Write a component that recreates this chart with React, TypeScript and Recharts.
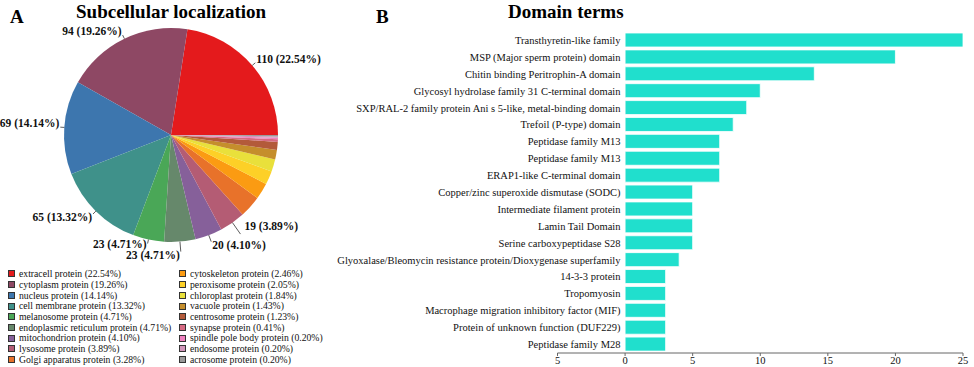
import { PieChart, Pie, Cell, BarChart, Bar, XAxis, YAxis } from 'recharts'

const locNames = [
  'extracell protein',
  'cytoplasm protein',
  'nucleus protein',
  'cell membrane protein',
  'melanosome protein',
  'endoplasmic reticulum protein',
  'mitochondrion protein',
  'lysosome protein',
  'Golgi apparatus protein',
  'cytoskeleton protein',
  'peroxisome protein',
  'chloroplast protein',
  'vacuole protein',
  'centrosome protein',
  'synapse protein',
  'spindle pole body protein',
  'endosome protein',
  'acrosome protein'
]
const locCounts = [110, 94, 69, 65, 23, 23, 20, 19, 16, 12, 10, 9, 7, 6, 2, 1, 1, 1]
const locColors = [
  '#e41a1c', '#8e4864', '#3d76ae', '#3f918a', '#4aa757', '#66886b',
  '#86609a', '#b45c74', '#e8722a', '#fb9b12', '#fdd027', '#e9e03b',
  '#c58e2c', '#b35a3a', '#d66a82', '#f081c0', '#d296bb', '#999999'
]

const domainNames = [
  'Transthyretin-like family',
  'MSP (Major sperm protein) domain',
  'Chitin binding Peritrophin-A domain',
  'Glycosyl hydrolase family 31 C-terminal domain',
  'SXP/RAL-2 family protein Ani s 5-like, metal-binding domain',
  'Trefoil (P-type) domain',
  'Peptidase family M13',
  'Peptidase family M13',
  'ERAP1-like C-terminal domain',
  'Copper/zinc superoxide dismutase (SODC)',
  'Intermediate filament protein',
  'Lamin Tail Domain',
  'Serine carboxypeptidase S28',
  'Glyoxalase/Bleomycin resistance protein/Dioxygenase superfamily',
  '14-3-3 protein',
  'Tropomyosin',
  'Macrophage migration inhibitory factor (MIF)',
  'Protein of unknown function (DUF229)',
  'Peptidase family M28'
]
const domainCounts = [25, 20, 14, 10, 9, 8, 7, 7, 7, 5, 5, 5, 5, 4, 3, 3, 3, 3, 3]
const xTicks = [-5, 0, 5, 10, 15, 20, 25]

const total = locCounts.reduce((a, b) => a + b, 0)
const pieData = locNames.map((name, i) => ({ name, value: locCounts[i] }))
const barData = domainNames.map((name, i) => ({ id: i, name, value: domainCounts[i] }))

const serif = '"Liberation Serif", "Times New Roman", serif'
const RADIAN = Math.PI / 180
// leader line tweaks for the crowded labels at the bottom
const extraLine: Record<number, number> = { 5: 6, 6: 3, 7: 10 }
const extraDy: Record<number, number> = { 4: -3, 7: -11 }
const extraDx: Record<number, number> = { 7: 3 }

const renderLabel = ({ cx, cy, midAngle, outerRadius, value, index }: any) => {
  if (index > 7) return null
  const cos = Math.cos(-midAngle * RADIAN)
  const sin = Math.sin(-midAngle * RADIAN)
  const len = 4 + (extraLine[index] || 0)
  const x1 = cx + outerRadius * cos
  const y1 = cy + outerRadius * sin
  const x2 = cx + (outerRadius + len) * cos
  const y2 = cy + (outerRadius + len) * sin
  const anchor = cos >= 0.1 ? 'start' : 'end'
  const tx = x2 + (anchor === 'start' ? 1 : -1) + (extraDx[index] || 0)
  const ty = (sin < 0 ? y2 - 4 : y2 + 3) + (extraDy[index] || 0)
  return (
    <g>
      <line x1={x1} y1={y1} x2={x2} y2={y2} stroke="#333" strokeWidth={0.8} />
      <text
        x={tx}
        y={ty}
        textAnchor={anchor}
        dominantBaseline="central"
        fontFamily={serif}
        fontWeight="bold"
        fontSize={11.5}
        fill="#111"
      >
        {`${value} (${((value / total) * 100).toFixed(2)}%)`}
      </text>
    </g>
  )
}

const DomainTick = ({ x, y, payload }: any) => (
  <text
    x={x + 63}
    y={y}
    textAnchor="end"
    dominantBaseline="central"
    fontFamily={serif}
    fontSize={10.5}
    fill="#111"
  >
    {domainNames[payload.value]}
  </text>
)

const legendItem = (i: number) => (
  <div key={i} style={{ display: 'flex', alignItems: 'center', height: 10.7, whiteSpace: 'nowrap' }}>
    <span
      style={{
        width: 5,
        height: 5,
        background: locColors[i],
        border: '1px solid #333',
        marginRight: 4,
        flex: 'none'
      }}
    />
    <span>{`${locNames[i]} (${((locCounts[i] / total) * 100).toFixed(2)}%)`}</span>
  </div>
)

const App = () => {
  return (
    <div style={{ position: 'relative', width: 974, height: 367, background: '#fff', fontFamily: serif, overflow: 'hidden', lineHeight: 1.15 }}>
      <style>{`html, body { margin: 0; padding: 0; overflow: hidden; }`}</style>
      <div style={{ position: 'absolute', left: 10, top: 6, fontSize: 19, fontWeight: 'bold' }}>A</div>
      <div style={{ position: 'absolute', left: 76, top: 1, fontSize: 19, fontWeight: 'bold' }}>Subcellular localization</div>
      <div style={{ position: 'absolute', left: 376, top: 6, fontSize: 19, fontWeight: 'bold' }}>B</div>
      <div style={{ position: 'absolute', left: 508, top: 1, fontSize: 19, fontWeight: 'bold' }}>Domain terms</div>

      <div style={{ position: 'absolute', left: 0, top: 0 }}>
        <PieChart width={330} height={264} margin={{ top: 0, right: 0, bottom: 0, left: 0 }}>
          <Pie
            data={pieData}
            dataKey="value"
            cx={171}
            cy={135}
            outerRadius={107}
            startAngle={0}
            endAngle={360}
            label={renderLabel}
            labelLine={false}
            stroke="none"
            isAnimationActive={false}
          >
            {pieData.map((entry, i) => (
              <Cell key={`cell-${i}`} fill={locColors[i]} />
            ))}
          </Pie>
        </PieChart>
      </div>

      <div style={{ position: 'absolute', left: 8, top: 268.6, fontSize: 9.7, color: '#111' }}>
        {[0, 1, 2, 3, 4, 5, 6, 7, 8].map(legendItem)}
      </div>
      <div style={{ position: 'absolute', left: 179, top: 268.6, fontSize: 9.7, color: '#111' }}>
        {[9, 10, 11, 12, 13, 14, 15, 16, 17].map(legendItem)}
      </div>

      <div style={{ position: 'absolute', left: 330, top: 0 }}>
        <BarChart
          width={644}
          height={367}
          data={barData}
          layout="vertical"
          margin={{ top: 32, right: 11, bottom: 0, left: 0 }}
          barSize={14}
        >
          <XAxis
            type="number"
            domain={[-5, 25]}
            ticks={xTicks}
            tickFormatter={(v: number) => String(Math.abs(v))}
            axisLine={{ stroke: '#666' }}
            tickLine={{ stroke: '#666' }}
            tickSize={3}
            tickMargin={1}
            tick={{ fontFamily: serif, fontSize: 10.5, fill: '#111' }}
            height={14}
            interval={0}
          />
          <YAxis
            type="category"
            dataKey="id"
            width={227.5}
            axisLine={false}
            tickLine={false}
            tickSize={0}
            tickMargin={0}
            interval={0}
            tick={<DomainTick />}
          />
          <Bar dataKey="value" fill="#20dfcd" stroke="#fff" strokeWidth={0.8} isAnimationActive={false} />
        </BarChart>
      </div>
    </div>
  )
}

export default App
